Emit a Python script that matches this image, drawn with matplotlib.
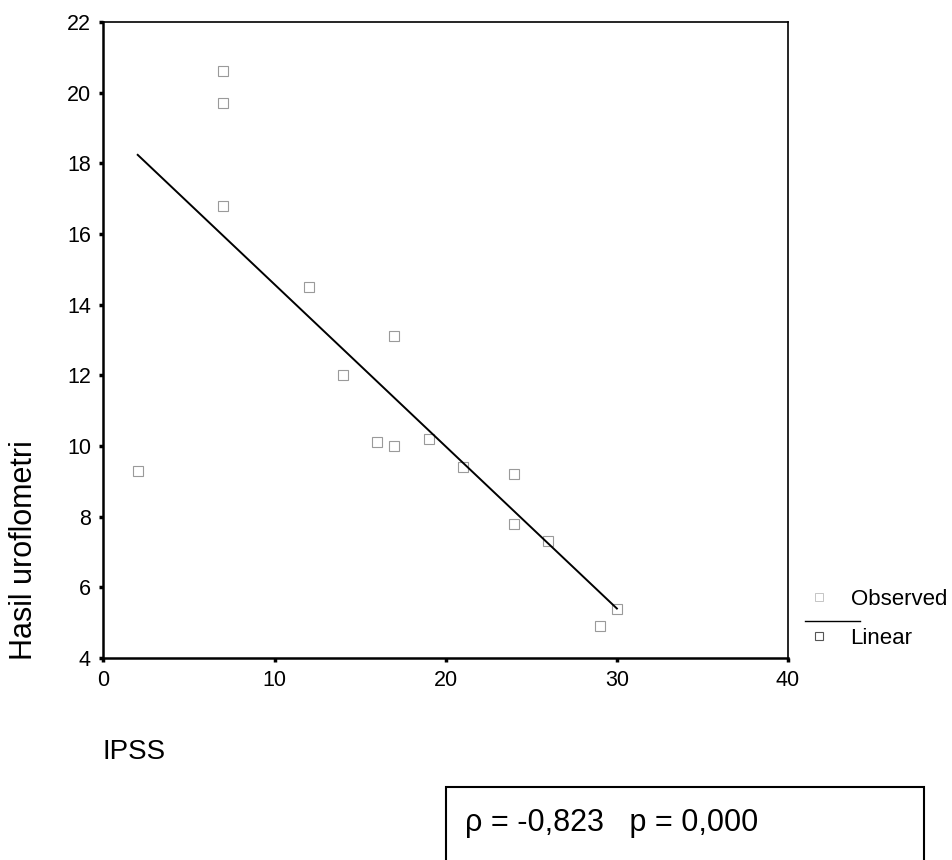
import numpy as np
import matplotlib
matplotlib.use("Agg")
import matplotlib.pyplot as plt
from matplotlib.lines import Line2D
from matplotlib.patches import Rectangle

plt.rcParams['font.family'] = ['Liberation Sans', 'DejaVu Sans']

# data
ipss = [2, 7, 7, 7, 12, 14, 16, 17, 17, 19, 21, 24, 24, 26, 29, 30]
uroflow = [9.3, 20.6, 19.7, 16.8, 14.5, 12.0, 10.1, 13.1, 10.0, 10.2, 9.4, 9.2, 7.8, 7.3, 4.9, 5.4]

# fitted line (start / end as seen on the chart)
fit_x = [2, 30]
fit_y = [18.24, 5.4]

x_ticks = [0, 10, 20, 30, 40]
y_ticks = [4, 6, 8, 10, 12, 14, 16, 18, 20, 22]
stat_text = "\u03c1 = -0,823   p = 0,000"

fig = plt.figure(figsize=(9.53, 8.6), dpi=100)
ax = fig.add_axes([0.1086, 0.2349, 0.7183, 0.7395])

mark_col = '#9a9a9a'
ax.plot(ipss, uroflow, ls='none', marker='s', ms=7, mfc='none', mec=mark_col, mew=0.8)
ax.plot(fit_x, fit_y, color='black', lw=1.4)

ax.set_xlim(0, 40)
ax.set_ylim(4, 22)
ax.set_xticks(x_ticks)
ax.set_yticks(y_ticks)
ax.tick_params(direction='out', length=3, width=2.5, labelsize=15.5, pad=6)

for side in ['left', 'bottom']:
    ax.spines[side].set_linewidth(1.8)
for side in ['top', 'right']:
    ax.spines[side].set_linewidth(1.2)

# axis titles placed like the SPSS output
fig.text(103 / 953, 1 - 752 / 860, 'IPSS', ha='left', va='center', fontsize=20)
fig.text(24 / 953, 1 - 660 / 860, 'Hasil uroflometri', rotation=90,
         ha='center', va='bottom', fontsize=22)

# legend
h_obs = Line2D([], [], ls='none', marker='s', ms=6, mfc='none', mec='#bbbbbb', mew=0.6)
h_lin = Line2D([], [], ls='none', marker='s', ms=6, mfc='none', mec='#555555', mew=0.8)
fig.legend([h_obs, h_lin], ['Observed', 'Linear'], loc='upper left',
           bbox_to_anchor=(795 / 953, 1 - 578 / 860), frameon=False, fontsize=16,
           handlelength=1.2, handletextpad=0.8, labelspacing=0.8, borderpad=0)
fig.add_artist(Line2D([805 / 953, 860 / 953], [1 - 621 / 860, 1 - 621 / 860],
                      color='black', lw=1.0))

# statistics box at the bottom
fig.add_artist(Rectangle((446 / 953, -0.05), (924 - 446) / 953, (860 - 787) / 860 + 0.05,
                         transform=fig.transFigure, fill=False, lw=1.5, ec='black'))
fig.text(465 / 953, 1 - 823 / 860, stat_text, ha='left', va='center', fontsize=22)

fig.savefig('out.png', dpi=100)
